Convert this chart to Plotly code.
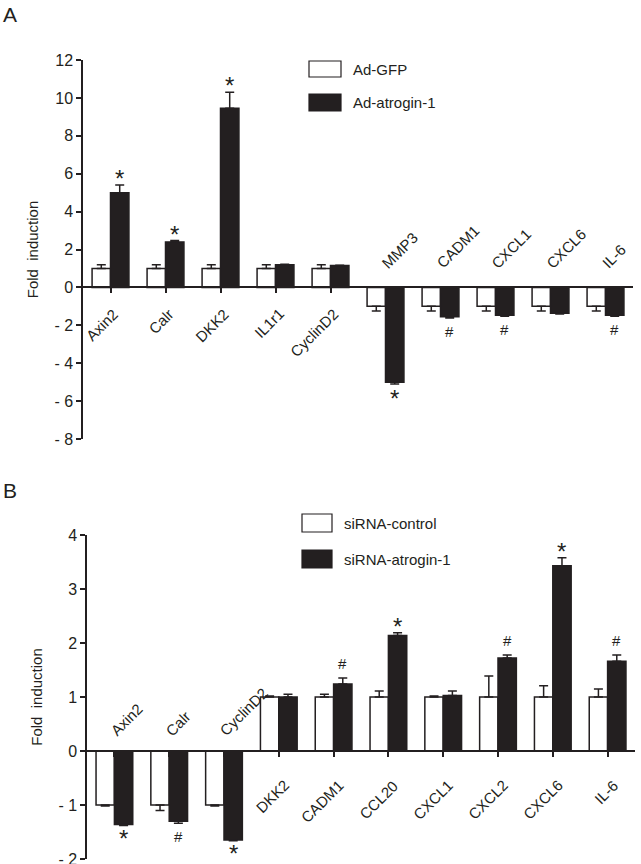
import plotly.graph_objects as go

# ---- panel A data ----
cats_a = ["Axin2", "Calr", "DKK2", "IL1r1", "CyclinD2",
          "MMP3", "CADM1", "CXCL1", "CXCL6", "IL-6"]
gfp = [1, 1, 1, 1, 1, -1, -1, -1, -1, -1]
gfp_err = [0.2, 0.2, 0.2, 0.2, 0.2, 0.25, 0.25, 0.25, 0.25, 0.25]
atro = [5.0, 2.4, 9.45, 1.2, 1.15, -5.0, -1.55, -1.47, -1.37, -1.47]
atro_err = [0.4, 0.07, 0.85, 0.02, 0.02, 0.1, 0.06, 0.05, 0.04, 0.05]
marks_a = ["*", "*", "*", "", "", "*", "#", "#", "", "#"]
yticks_a = [-8, -6, -4, -2, 0, 2, 4, 6, 8, 10, 12]

# ---- panel B data ----
cats_b = ["Axin2", "Calr", "CyclinD2", "DKK2", "CADM1",
          "CCL20", "CXCL1", "CXCL2", "CXCL6", "IL-6"]
ctrl = [-1, -1, -1, 1, 1, 1, 1, 1, 1, 1]
ctrl_err = [0.02, 0.1, 0.02, 0.02, 0.05, 0.11, 0.02, 0.39, 0.21, 0.15]
sia = [-1.36, -1.3, -1.65, 1.0, 1.24, 2.14, 1.03, 1.72, 3.43, 1.66]
sia_err = [0.02, 0.04, 0.01, 0.05, 0.11, 0.05, 0.08, 0.06, 0.15, 0.12]
marks_b = ["*", "#", "*", "", "#", "*", "", "#", "*", "#"]
yticks_b = [-2, -1, 0, 1, 2, 3, 4]

W, H = 641, 864
INK = "#231f20"
FONT = "Liberation Sans, Arial, Helvetica, sans-serif"


def px_x(p):
    return p / W


def px_y(p):
    return 1 - p / H


def err_arrays(vals, errs):
    up = [e if v > 0 else 0 for v, e in zip(vals, errs)]
    dn = [e if v < 0 else 0 for v, e in zip(vals, errs)]
    return up, dn


def bar(name, cats, vals, errs, fill, xa, ya):
    up, dn = err_arrays(vals, errs)
    return go.Bar(
        name=name, x=cats, y=vals, xaxis=xa, yaxis=ya,
        marker=dict(color=fill, line=dict(color=INK, width=1.5)),
        error_y=dict(type="data", symmetric=False, array=up, arrayminus=dn,
                     color=INK, thickness=1.5, width=4.5),
        showlegend=False,
    )


fig = go.Figure()
fig.add_trace(bar("Ad-GFP", cats_a, gfp, gfp_err, "white", "x", "y"))
fig.add_trace(bar("Ad-atrogin-1", cats_a, atro, atro_err, INK, "x", "y"))
fig.add_trace(bar("siRNA-control", cats_b, ctrl, ctrl_err, "white", "x2", "y2"))
fig.add_trace(bar("siRNA-atrogin-1", cats_b, sia, sia_err, INK, "x2", "y2"))

xdom_a = [px_x(83), px_x(633)]
ydom_a = [px_y(439), px_y(60)]
xdom_b = [px_x(87), px_x(635)]
ydom_b = [px_y(859), px_y(535)]
yr_a = [-8, 12]
yr_b = [-2, 4]


def zero_pos(dom, rng):
    return dom[0] + (0 - rng[0]) / (rng[1] - rng[0]) * (dom[1] - dom[0])


def tick_txt(v):
    return f"- {abs(v)}" if v < 0 else str(v)


axis_font = dict(family=FONT, size=16, color=INK)
xcommon = dict(type="category", range=[-0.5, 9.5], showline=True,
               linecolor=INK, linewidth=1.5, ticks="outside", ticklen=5,
               tickwidth=1.5, tickcolor=INK, showticklabels=False,
               showgrid=False, zeroline=False, anchor="free", fixedrange=True,
               automargin=False)
ycommon = dict(showline=True, linecolor=INK, linewidth=1.5, ticks="outside",
               ticklen=5, tickwidth=1.5, tickcolor=INK, showgrid=False,
               zeroline=False, tickfont=axis_font, fixedrange=True,
               automargin=False, ticklabeloverflow="allow",
               title=dict(text="Fold\u00a0 induction",
                          font=dict(family=FONT, size=15, color=INK), standoff=12))

fig.update_layout(
    width=W, height=H,
    margin=dict(l=0, r=0, t=0, b=0, autoexpand=False),
    paper_bgcolor="white", plot_bgcolor="white",
    barmode="group", bargap=0.33, bargroupgap=0,
    font=dict(family=FONT, color=INK),
    xaxis=dict(xcommon, domain=xdom_a, position=zero_pos(ydom_a, yr_a)),
    yaxis=dict(ycommon, domain=ydom_a, range=yr_a, anchor="x",
               tickvals=yticks_a, ticktext=[tick_txt(v) for v in yticks_a]),
    xaxis2=dict(xcommon, domain=xdom_b, position=zero_pos(ydom_b, yr_b)),
    yaxis2=dict(ycommon, domain=ydom_b, range=yr_b, anchor="x2",
                tickvals=yticks_b, ticktext=[tick_txt(v) for v in yticks_b]),
)

ann = []
lab_font = dict(family=FONT, size=15, color=INK)
# category labels: below the axis for up bars, above it for down bars
for cats, ref_vals, xr, yr, dx, dy, up_dy in [(cats_a, gfp, "x", "y", 14, -15, 13),
                                              (cats_b, ctrl, "x2", "y2", 16, -23, 9)]:
    for c, v in zip(cats, ref_vals):
        if v > 0:
            ann.append(dict(x=c, y=0, xref=xr, yref=yr, text=c, textangle=-45,
                            showarrow=False, xanchor="right", yanchor="top",
                            xshift=dx, yshift=dy, font=lab_font))
        else:
            ann.append(dict(x=c, y=0, xref=xr, yref=yr, text=c, textangle=-45,
                            showarrow=False, xanchor="left", yanchor="bottom",
                            xshift=-10, yshift=up_dy, font=lab_font))

# significance marks over the treated bars
for cats, vals, errs, marks, xr, yr, neg_star in [
        (cats_a, atro, atro_err, marks_a, "x", "y", 1),
        (cats_b, sia, sia_err, marks_b, "x2", "y2", 3)]:
    for c, v, e, m in zip(cats, vals, errs, marks):
        if not m:
            continue
        size = 24 if m == "*" else 15
        if v > 0:
            ys = -9 if m == "*" else 4
            ann.append(dict(x=c, y=v + e, xref=xr, yref=yr, text=m, showarrow=False,
                            xanchor="center", yanchor="bottom", xshift=9, yshift=ys,
                            font=dict(family=FONT, size=size, color=INK)))
        else:
            ys = neg_star if m == "*" else -3
            ann.append(dict(x=c, y=v - e, xref=xr, yref=yr, text=m, showarrow=False,
                            xanchor="center", yanchor="top", xshift=9, yshift=ys,
                            font=dict(family=FONT, size=size, color=INK)))

# panel letters
ann.append(dict(x=px_x(1), y=px_y(1), xref="paper", yref="paper", text="A",
                showarrow=False, xanchor="left", yanchor="top",
                font=dict(family=FONT, size=21, color=INK)))
ann.append(dict(x=px_x(1), y=px_y(477), xref="paper", yref="paper", text="B",
                showarrow=False, xanchor="left", yanchor="top",
                font=dict(family=FONT, size=21, color=INK)))

# legends drawn as swatches
shapes = []
legend_items = [
    ("Ad-GFP", "white", 309, 61, 341, 77),
    ("Ad-atrogin-1", INK, 309, 94, 341, 111),
    ("siRNA-control", "white", 302, 514, 332, 532),
    ("siRNA-atrogin-1", INK, 302, 550, 332, 568),
]
for label, fill, x0, y0, x1, y1 in legend_items:
    shapes.append(dict(type="rect", xref="paper", yref="paper",
                       x0=px_x(x0), x1=px_x(x1), y0=px_y(y1), y1=px_y(y0),
                       fillcolor=fill, line=dict(color=INK, width=1.2)))
    ann.append(dict(x=px_x(x1 + 10), y=px_y((y0 + y1) / 2), xref="paper", yref="paper",
                    text=label, showarrow=False, xanchor="left", yanchor="middle",
                    font=dict(family=FONT, size=15, color=INK)))

fig.update_layout(annotations=ann, shapes=shapes)

fig.write_html(
    "out.html",
    config={"displayModeBar": False},
    post_script=("document.documentElement.style.margin='0';"
                 "document.documentElement.style.overflow='hidden';"
                 "document.body.style.margin='0';"
                 "document.body.style.overflow='hidden';"),
)
